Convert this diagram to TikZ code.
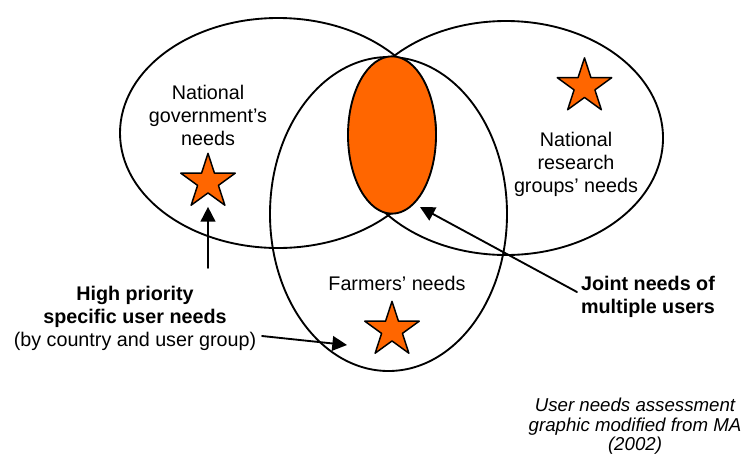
\documentclass[tikz,border=0pt]{standalone}
\usepackage{fontspec}
\setmainfont{Liberation Sans}
\usetikzlibrary{shapes.geometric,arrows.meta}
\definecolor{needorange}{RGB}{255,102,0}
\begin{document}
\begin{tikzpicture}[x=0.75pt,y=-0.75pt,>={Triangle[length=11pt,width=11pt]}, line join=round, line cap=round,
	group/.style={draw,line width=1.4pt},
	needstar/.style={star,star points=5,star point ratio=2.618,draw,line width=1.1pt,fill=needorange,minimum size=43pt,inner sep=0pt},
	lbl/.style={align=center,inner sep=0pt,anchor=north,font=\fontsize{14.8}{17.25}\selectfont},
	arr/.style={->,line width=1.4pt}]
	\useasboundingbox (0,0) rectangle (745,457);
	% Nhóm người dùng
	\draw[group] (278,133) ellipse [x radius=158, y radius=115];
	\draw[group] (506,138) ellipse [x radius=157, y radius=117];
	\draw[group] (388.5,214) ellipse [x radius=118.5, y radius=157];
	\node[ellipse,draw,line width=1.4pt,fill=needorange,minimum width=66pt,minimum height=118pt,inner sep=0pt] (joint) at (392,135) {};
	\node[needstar] (gov-star) at (208,182) {};
	\node[needstar] (res-star) at (584.5,86.5) {};
	\node[needstar] (farm-star) at (392,330) {};
	\node[lbl] (gov) at (208,85) {National\\government’s\\needs};
	\node[lbl] (res) at (576,132) {National\\research\\groups’ needs};
	\node[lbl] (farm) at (397,276) {Farmers’ needs};
	\node[lbl] (high) at (135,286) {\textbf{High priority}\\\textbf{specific user needs}\\(by country and user group)};
	\node[lbl] (multi) at (648,276) {\textbf{Joint needs of}\\\textbf{multiple users}};
	\node[lbl,font=\fontsize{14}{14.6}\selectfont\itshape] (credit) at (635,398) {User needs assessment\\graphic modified from MA\\(2002)};
	% Mũi tên
	\coordinate (gov-tail) at (208,268);
	\coordinate (farm-tail) at (262,336);
	\coordinate (farm-tip) at (347,345);
	\coordinate (multi-tail) at (577,292);
	\coordinate (joint-tip) at (420,207);
	\draw[arr,shorten >=9.75pt] (gov-tail) -- (gov-star.south);
	\draw[arr] (farm-tail) -- (farm-tip);
	\draw[arr] (multi-tail) -- (joint-tip);
\end{tikzpicture}
\end{document}
